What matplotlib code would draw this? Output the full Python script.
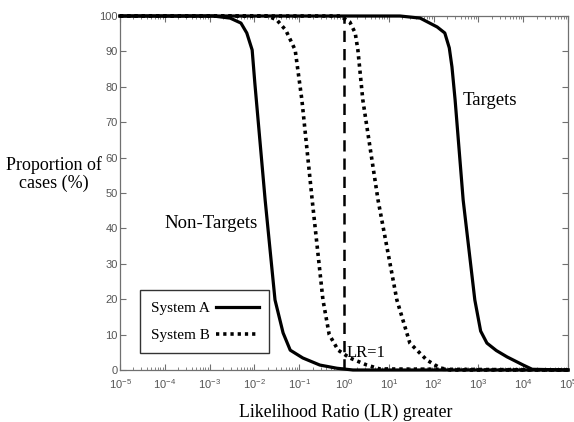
import matplotlib
matplotlib.use("Agg")
import matplotlib.pyplot as plt
import numpy as np
from matplotlib.lines import Line2D
from matplotlib.ticker import LogLocator

# ---- data (log10 of LR, proportion in %) ----
a_nontarget_loglr = [-5, -2.92, -2.54, -2.3, -2.17, -2.05, -1.99, -1.76, -1.54, -1.36, -1.2, -0.92, -0.54, -0.16, 0.2, 5]
a_nontarget_pct   = [100, 100, 99.4, 98, 95.2, 90.4, 81, 48, 19.8, 10.5, 5.6, 3.4, 1.4, 0.5, 0, 0]

a_target_loglr = [-5, 1.25, 1.7, 2.08, 2.25, 2.35, 2.41, 2.48, 2.66, 2.92, 3.05, 3.19, 3.4, 3.64, 4.0, 4.2, 5]
a_target_pct   = [100, 100, 99.4, 96.9, 95.2, 91, 85.6, 76.3, 48, 19.8, 11, 7.6, 5.5, 3.7, 1.4, 0.2, 0]

b_nontarget_loglr = [-5, -1.7, -1.5, -1.3, -1.09, -0.94, -0.71, -0.47, -0.33, -0.13, 0.13, 0.51, 0.8, 5]
b_nontarget_pct   = [100, 100, 98.9, 96, 90.4, 76.3, 48, 19.8, 10, 5.6, 3.4, 1.4, 0.3, 0]

b_target_loglr = [-5, -0.09, 0.13, 0.25, 0.31, 0.42, 0.76, 1.18, 1.47, 1.85, 2.14, 2.37, 5]
b_target_pct   = [100, 100, 98.3, 95.2, 90.4, 76.3, 48, 19.8, 7.6, 2.8, 0.6, 0, 0]

lr_one = 1.0
x_range = (1e-5, 1e5)
y_ticks = [0, 10, 20, 30, 40, 50, 60, 70, 80, 90, 100]

serif = "Liberation Serif"
sans = "Liberation Sans"
plt.rcParams['mathtext.default'] = 'regular'

fig = plt.figure(figsize=(5.74, 4.22), dpi=100)
ax = fig.add_axes([120/574, 1-370/422, 448/574, 354/422])

def lr(v):
    return 10.0 ** np.asarray(v, dtype=float)

dot = (0, (0.9, 1.1))
ax.plot(lr(b_nontarget_loglr), b_nontarget_pct, color='black', lw=2.6, linestyle=dot, clip_on=False, zorder=3)
ax.plot(lr(b_target_loglr), b_target_pct, color='black', lw=2.6, linestyle=dot, clip_on=False, zorder=3)
ax.plot(lr(a_nontarget_loglr), a_nontarget_pct, color='black', lw=2.3, clip_on=False, zorder=4)
ax.plot(lr(a_target_loglr), a_target_pct, color='black', lw=2.3, clip_on=False, zorder=4)
ax.plot([lr_one, lr_one], [0, 100], color='black', lw=1.8, linestyle=(0, (4.5, 2.8)), zorder=2)

ax.set_xscale('log')
ax.set_xlim(*x_range)
ax.set_ylim(0, 100)
ax.set_yticks(y_ticks)
ax.xaxis.set_major_locator(LogLocator(base=10, numticks=20))
ax.xaxis.set_minor_locator(LogLocator(base=10, subs=np.arange(2, 10), numticks=100))

spine_col = '#707070'
for s in ax.spines.values():
    s.set_color(spine_col)
    s.set_linewidth(0.9)
ax.tick_params(which='both', direction='in', top=True, right=True, colors=spine_col,
               labelcolor='#555555', labelsize=8)
ax.tick_params(which='major', length=4, width=0.8)
ax.tick_params(axis='x', which='major', pad=5)
ax.tick_params(axis='y', which='major', pad=1.5)
ax.tick_params(which='minor', length=2, width=0.6)
ax.tick_params(axis='y', which='minor', left=False, right=False)
for lab in ax.get_xticklabels() + ax.get_yticklabels():
    lab.set_family(sans)

# annotations
ax.text(10**-1.92, 41.5, "Non-Targets", family=serif, fontsize=13.5, ha='right', va='center')
ax.text(10**2.64, 76, "Targets", family=serif, fontsize=13.5, ha='left', va='center')
ax.text(10**0.05, 4.8, "LR=1", family=serif, fontsize=12, ha='left', va='center')

handles = [Line2D([], [], color='black', lw=2.3),
           Line2D([], [], color='black', lw=2.6, linestyle=dot)]
leg = ax.legend(handles, ["System A", "System B"], loc='lower left',
                bbox_to_anchor=(0.045, 0.048), markerfirst=False, frameon=True,
                fancybox=False, prop={'family': serif, 'size': 11},
                handlelength=2.8, handletextpad=0.4, borderpad=0.7, labelspacing=0.9,
                borderaxespad=0)
leg.get_frame().set_edgecolor('black')
leg.get_frame().set_linewidth(1.0)

fig.text(54/574, 1-174/422, "Proportion of\ncases (%)", family=serif, fontsize=13,
         ha='center', va='center', linespacing=1.1)
fig.text(346/574, 1-412/422, "Likelihood Ratio (LR) greater", family=serif, fontsize=12.8,
         ha='center', va='center')

fig.savefig("out.png", dpi=100)
